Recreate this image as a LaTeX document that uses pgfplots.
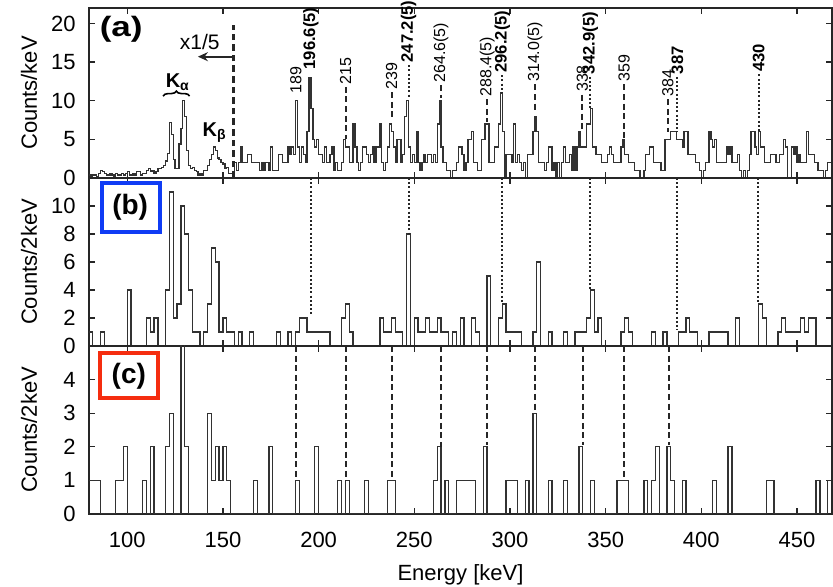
\documentclass[border=0pt]{standalone}
\usepackage{fontspec}
\setmainfont{Liberation Sans}
\usepackage{pgfplots}
\pgfplotsset{compat=1.18}
\usepackage{pgfplotstable}
\usetikzlibrary{decorations.pathreplacing,arrows.meta}

\definecolor{bbox}{RGB}{15,60,245}
\definecolor{rbox}{RGB}{245,45,15}
\definecolor{hist}{RGB}{50,50,50}

% panel (a): 1 keV bins (below 156 keV scaled by 1/5)
\pgfplotstableread[row sep=\\]{
E c\\
80 0.4\\81 0.2\\82 0.4\\83 0.4\\84 0.2\\85 0.6\\86 1.0\\87 0.8\\88 0.6\\89 0.4\\
90 0.4\\91 0.6\\92 0.4\\93 0.2\\94 0.6\\95 0.4\\96 0.4\\97 0.6\\98 0.4\\99 0.6\\
100 0.8\\101 0.4\\102 0.4\\103 0.6\\104 0.4\\105 0.8\\106 0.8\\107 0.4\\108 0.6\\109 0.6\\
110 1.0\\111 1.2\\112 0.8\\113 1.0\\114 0.6\\115 0.8\\116 1.2\\117 1.2\\118 1.4\\119 1.6\\
120 2.2\\121 3.2\\122 7.2\\123 5.6\\124 2.4\\125 1.2\\126 1.2\\127 4.4\\128 6.4\\129 10.0\\
130 8.0\\131 3.6\\132 1.6\\133 1.2\\134 1.4\\135 1.0\\136 0.8\\137 0.4\\138 0.6\\139 0.4\\
140 1.0\\141 1.0\\142 1.6\\143 2.4\\144 3.0\\145 4.0\\146 3.6\\147 2.6\\148 2.4\\149 2.0\\
150 1.8\\151 1.2\\152 1.4\\153 0.6\\154 0.6\\155 0.4\\156 2\\157 1\\158 2\\159 4\\
160 2\\161 2\\162 2\\163 3\\164 3\\165 2\\166 2\\167 2\\168 2\\169 1\\
170 2\\171 1\\172 2\\173 2\\174 1\\175 4\\176 1\\177 1\\178 1\\179 3\\
180 3\\181 2\\182 2\\183 2\\184 4\\185 3\\186 4\\187 3\\188 10\\189 4\\
190 2\\191 4\\192 3\\193 2\\194 6\\195 13\\196 9\\197 5\\198 4\\199 5\\
200 3\\201 3\\202 2\\203 4\\204 2\\205 2\\206 3\\207 4\\208 1\\209 2\\
210 1\\211 1\\212 2\\213 5\\214 4\\215 4\\216 2\\217 2\\218 7\\219 4\\
220 2\\221 1\\222 2\\223 4\\224 4\\225 3\\226 2\\227 3\\228 4\\229 2\\
230 4\\231 4\\232 7\\233 2\\234 1\\235 2\\236 4\\237 7\\238 6\\239 4\\
240 2\\241 5\\242 5\\243 2\\244 3\\245 8\\246 10\\247 4\\248 2\\249 3\\
250 2\\251 6\\252 2\\253 1\\254 2\\255 3\\256 2\\257 3\\258 3\\259 2\\
260 3\\261 2\\262 7\\263 10\\264 4\\265 2\\266 2\\267 1\\268 1\\269 0\\
270 1\\271 1\\272 2\\273 4\\274 4\\275 3\\276 1\\277 2\\278 5\\279 5\\
280 6\\281 2\\282 2\\283 1\\284 1\\285 5\\286 5\\287 7\\288 7\\289 2\\
290 2\\291 2\\292 4\\293 4\\294 7\\295 11\\296 6\\297 0\\298 3\\299 3\\
300 3\\301 2\\302 7\\303 2\\304 3\\305 2\\306 1\\307 2\\308 0\\309 3\\
310 3\\311 3\\312 6\\313 8\\314 6\\315 2\\316 2\\317 2\\318 1\\319 2\\
320 4\\321 4\\322 1\\323 2\\324 0\\325 2\\326 0\\327 2\\328 4\\329 2\\
330 2\\331 3\\332 1\\333 4\\334 1\\335 4\\336 6\\337 4\\338 4\\339 4\\
340 7\\341 7\\342 9\\343 4\\344 4\\345 3\\346 3\\347 3\\348 2\\349 2\\
350 2\\351 3\\352 4\\353 3\\354 2\\355 2\\356 2\\357 2\\358 4\\359 5\\
360 3\\361 3\\362 2\\363 2\\364 2\\365 1\\366 1\\367 1\\368 0\\369 0\\
370 1\\371 3\\372 3\\373 4\\374 4\\375 2\\376 2\\377 2\\378 2\\379 1\\
380 1\\381 5\\382 5\\383 5\\384 6\\385 6\\386 6\\387 5\\388 5\\389 5\\
390 4\\391 6\\392 6\\393 3\\394 3\\395 3\\396 3\\397 2\\398 2\\399 1\\
400 0\\401 1\\402 2\\403 2\\404 6\\405 5\\406 4\\407 5\\408 2\\409 2\\
410 2\\411 2\\412 2\\413 4\\414 3\\415 4\\416 2\\417 2\\418 2\\419 3\\
420 1\\421 0\\422 1\\423 0\\424 1\\425 3\\426 6\\427 6\\428 4\\429 3\\
430 6\\431 4\\432 4\\433 2\\434 2\\435 2\\436 3\\437 3\\438 3\\439 2\\
440 2\\441 3\\442 3\\443 5\\444 4\\445 0\\446 0\\447 4\\448 3\\449 4\\
450 2\\451 3\\452 2\\453 2\\454 2\\455 6\\456 3\\457 3\\458 3\\459 2\\
460 2\\461 1\\462 1\\463 1\\464 0\\465 1\\466 2\\467 2\\468 2\\
}\dataA

% panel (b): 2 keV bins
\pgfplotstableread[row sep=\\]{
E c\\
80 1\\82 0\\84 0\\86 1\\88 0\\90 0\\92 0\\94 0\\96 0\\98 0\\
100 4\\102 0\\104 0\\106 0\\108 0\\110 2\\112 1\\114 2\\116 0\\118 0\\
120 4\\122 11\\124 2\\126 3\\128 10\\130 8\\132 4\\134 1\\136 1\\138 0\\
140 1\\142 3\\144 7\\146 6\\148 1\\150 2\\152 1\\154 1\\156 0\\158 1\\
160 0\\162 0\\164 1\\166 0\\168 0\\170 0\\172 0\\174 0\\176 0\\178 1\\
180 0\\182 0\\184 1\\186 0\\188 1\\190 2\\192 2\\194 1\\196 1\\198 1\\
200 1\\202 1\\204 1\\206 0\\208 0\\210 0\\212 2\\214 3\\216 1\\218 0\\
220 0\\222 0\\224 0\\226 0\\228 0\\230 0\\232 2\\234 1\\236 1\\238 2\\
240 1\\242 1\\244 0\\246 8\\248 0\\250 2\\252 1\\254 1\\256 2\\258 1\\
260 1\\262 2\\264 1\\266 1\\268 0\\270 1\\272 0\\274 2\\276 0\\278 0\\
280 2\\282 1\\284 0\\286 0\\288 5\\290 0\\292 0\\294 2\\296 3\\298 1\\
300 1\\302 1\\304 1\\306 0\\308 0\\310 0\\312 1\\314 6\\316 0\\318 0\\
320 1\\322 0\\324 0\\326 0\\328 1\\330 0\\332 0\\334 1\\336 1\\338 1\\
340 2\\342 4\\344 1\\346 2\\348 0\\350 0\\352 0\\354 0\\356 0\\358 1\\
360 2\\362 1\\364 0\\366 0\\368 0\\370 0\\372 0\\374 1\\376 0\\378 0\\
380 1\\382 0\\384 0\\386 0\\388 1\\390 1\\392 2\\394 1\\396 1\\398 0\\
400 0\\402 0\\404 1\\406 1\\408 1\\410 1\\412 1\\414 0\\416 0\\418 2\\
420 0\\422 0\\424 0\\426 0\\428 0\\430 3\\432 2\\434 0\\436 0\\438 0\\
440 1\\442 2\\444 1\\446 1\\448 1\\450 1\\452 2\\454 1\\456 2\\458 2\\
460 0\\462 0\\464 0\\466 0\\468 0\\
}\dataB

% panel (c): 2 keV bins
\pgfplotstableread[row sep=\\]{
E c\\
80 1\\82 1\\84 1\\86 0\\88 0\\90 0\\92 0\\94 1\\96 1\\98 2\\
100 0\\102 0\\104 0\\106 0\\108 1\\110 0\\112 2\\114 0\\116 0\\118 0\\
120 2\\122 3\\124 0\\126 0\\128 7\\130 2\\132 0\\134 0\\136 0\\138 0\\
140 0\\142 3\\144 1\\146 2\\148 1\\150 2\\152 1\\154 0\\156 0\\158 0\\
160 0\\162 0\\164 0\\166 1\\168 0\\170 0\\172 0\\174 2\\176 0\\178 0\\
180 0\\182 0\\184 0\\186 0\\188 1\\190 0\\192 0\\194 0\\196 0\\198 2\\
200 0\\202 0\\204 0\\206 0\\208 0\\210 1\\212 0\\214 1\\216 0\\218 0\\
220 0\\222 0\\224 1\\226 0\\228 0\\230 0\\232 0\\234 0\\236 1\\238 1\\
240 0\\242 0\\244 0\\246 0\\248 0\\250 0\\252 0\\254 0\\256 0\\258 0\\
260 1\\262 2\\264 0\\266 1\\268 0\\270 0\\272 1\\274 1\\276 1\\278 1\\
280 1\\282 0\\284 0\\286 2\\288 0\\290 0\\292 0\\294 0\\296 0\\298 1\\
300 1\\302 1\\304 0\\306 0\\308 1\\310 0\\312 3\\314 0\\316 0\\318 0\\
320 1\\322 0\\324 0\\326 0\\328 1\\330 0\\332 0\\334 0\\336 2\\338 0\\
340 0\\342 1\\344 0\\346 0\\348 0\\350 0\\352 0\\354 0\\356 1\\358 1\\
360 1\\362 0\\364 0\\366 0\\368 0\\370 1\\372 0\\374 1\\376 2\\378 0\\
380 0\\382 2\\384 1\\386 0\\388 0\\390 1\\392 0\\394 0\\396 0\\398 0\\
400 0\\402 0\\404 0\\406 1\\408 0\\410 0\\412 0\\414 2\\416 0\\418 0\\
420 0\\422 0\\424 0\\426 0\\428 0\\430 0\\432 0\\434 1\\436 1\\438 0\\
440 0\\442 0\\444 0\\446 0\\448 0\\450 0\\452 0\\454 0\\456 0\\458 0\\
460 1\\462 0\\464 0\\466 1\\468 1\\
}\dataC

\newcommand\pl[3]{\node[rotate=90, anchor=west, inner sep=0pt, font=\fontsize{8}{9}\selectfont] at (axis cs:#1,#2) {#3};}
\newcommand\plb[3]{\node[rotate=90, anchor=west, inner sep=0pt, font=\fontsize{8.3}{9}\selectfont\bfseries] at (axis cs:#1,#2) {#3};}

\tikzset{
  dotl/.style={black!85, line width=1pt, dash pattern=on 1pt off 1.1pt},
  dashl/.style={black!85, line width=1pt, dash pattern=on 3pt off 1.8pt},
}
\pgfplotsset{
  panel/.style={
    scale only axis, width=371.5pt,
    xmin=80, xmax=468.3,
    xtick={100,150,...,450},
    axis line style={line width=0.8pt, black!85},
    every tick/.style={black!85, line width=0.6pt},
    major tick length=3pt,
    tick label style={font=\fontsize{11}{13}\selectfont},
    /pgf/number format/assume math mode=true,
    yticklabel style={inner sep=0pt, xshift=-6.5pt},
    every axis y label/.style={at={(axis description cs:-0.0808,0.5)}, rotate=90, anchor=center, font=\fontsize{11}{13}\selectfont},
  },
  hist/.style={const plot mark left, no marks, line width=0.65pt, color=hist},
}

\begin{document}
\begin{tikzpicture}
\useasboundingbox (-44.5pt,-36.25pt) rectangle (372pt,257pt);

% ---------- panel (a)
\begin{axis}[panel, at={(0,168pt)}, height=85pt, ymin=0, ymax=22, ytick={0,5,...,20},
  xticklabels={}, ylabel={Counts/keV}, clip=false]
\addplot[hist] table[x=E,y=c] {\dataA};
\draw[black!85, line width=1.5pt, dash pattern=on 3.3pt off 2pt] (axis cs:155.7,0) -- (axis cs:155.7,19.8);
\draw[-{Stealth[length=5pt,width=4.5pt]}, line width=1pt, black!85] (axis cs:155.2,15.7) -- (axis cs:136.9,15.7);
\node[font=\fontsize{10.5}{12}\selectfont] at (axis cs:137.9,17.6) {x1/5};
\node[font=\fontsize{14}{16}\selectfont\bfseries, xscale=1.25] at (axis cs:96.8,19.2) {(a)};
\node[font=\fontsize{10}{12}\selectfont\bfseries] at (axis cs:126.4,12.4) {K\textsubscript{α}};
\node[font=\fontsize{10}{12}\selectfont\bfseries] at (axis cs:145.7,5.9) {K\textsubscript{β}};
\draw[decorate, decoration={brace, amplitude=2.5pt}, line width=0.8pt] (axis cs:118.7,10.6) -- (axis cs:132.6,10.6);
% labels
\pl{188.1}{10.9}{189}
\plb{195.9}{14.0}{196.6(5)}
\pl{214.1}{12.05}{215}
\pl{238.1}{11.4}{239}
\plb{247.0}{14.9}{247.2(5)}
\pl{263.9}{12.3}{264.6(5)}
\pl{288.1}{10.5}{288.4(5)}
\plb{296.0}{13.6}{296.2(5)}
\pl{313.1}{12.4}{314.0(5)}
\pl{337.8}{11.1}{338}
\plb{342.0}{13.4}{342.9(5)}
\pl{359.6}{12.4}{359}
\pl{382.5}{10.5}{384}
\plb{387.5}{13.4}{387}
\plb{430.0}{13.7}{430}
% connectors
\draw[dashl] (axis cs:214.1,11.8) -- (axis cs:214.1,5.0);
\draw[dashl] (axis cs:238.1,11.1) -- (axis cs:238.1,7.5);
\draw[dashl] (axis cs:263.9,12.0) -- (axis cs:263.9,10.3);
\draw[dashl] (axis cs:288.1,10.2) -- (axis cs:288.1,7.2);
\draw[dashl] (axis cs:313.1,12.1) -- (axis cs:313.1,8.4);
\draw[dashl] (axis cs:337.8,10.8) -- (axis cs:337.8,6.2);
\draw[dashl] (axis cs:359.6,12.1) -- (axis cs:359.6,5.2);
\draw[dashl] (axis cs:382.5,10.2) -- (axis cs:382.5,6.0);
\draw[dotl] (axis cs:247.0,14.6) -- (axis cs:247.0,10.4);
\draw[dotl] (axis cs:296.0,13.3) -- (axis cs:296.0,11.1);
\draw[dotl] (axis cs:342.0,13.1) -- (axis cs:342.0,9.1);
\draw[dotl] (axis cs:387.5,13.1) -- (axis cs:387.5,6.0);
\draw[dotl] (axis cs:430.0,13.4) -- (axis cs:430.0,6.0);
\end{axis}

% ---------- panel (b)
\begin{axis}[panel, at={(0,84pt)}, height=84pt, ymin=0, ymax=12, ytick={0,2,...,10},
  xticklabels={}, ylabel={Counts/2keV}]
\addplot[hist] table[x=E,y=c] {\dataB};
\draw[dotl] (axis cs:195.9,12) -- (axis cs:195.9,2.1);
\draw[dotl] (axis cs:247.2,12) -- (axis cs:247.2,8);
\draw[dotl] (axis cs:296.0,12) -- (axis cs:296.0,3.07);
\draw[dotl] (axis cs:341.8,12) -- (axis cs:341.8,4.1);
\draw[dotl] (axis cs:387.1,12) -- (axis cs:387.1,1.17);
\draw[dotl] (axis cs:429.8,12) -- (axis cs:429.8,3.07);
\draw[bbox, line width=2pt, fill=white] (axis cs:87,8.16) rectangle (axis cs:116.9,11.61);
\node[font=\fontsize{14}{16}\selectfont\bfseries] at (axis cs:101.5,9.9) {(b)};
\end{axis}

% ---------- panel (c)
\begin{axis}[panel, at={(0,0)}, height=84pt, ymin=0, ymax=5, ytick={0,1,...,4},
  xlabel={Energy [keV]}, ylabel={Counts/2keV},
  xticklabel style={anchor=center, yshift=-12.75pt},
  every axis x label/.style={at={(axis description cs:0.5,-0.36)}, anchor=center, font=\fontsize{11}{13}\selectfont}]
\addplot[hist] table[x=E,y=c] {\dataC};
\draw[dashl] (axis cs:188.1,5) -- (axis cs:188.1,1);
\draw[dashl] (axis cs:214.1,5) -- (axis cs:214.1,1);
\draw[dashl] (axis cs:238.1,5) -- (axis cs:238.1,1);
\draw[dashl] (axis cs:263.9,5) -- (axis cs:263.9,2);
\draw[dashl] (axis cs:288.1,5) -- (axis cs:288.1,2.06);
\draw[dashl] (axis cs:313.1,5) -- (axis cs:313.1,3);
\draw[dashl] (axis cs:338.0,5) -- (axis cs:338.0,2.06);
\draw[dashl] (axis cs:359.7,5) -- (axis cs:359.7,1);
\draw[dashl] (axis cs:383.1,5) -- (axis cs:383.1,2.06);
\draw[rbox, line width=2pt, fill=white] (axis cs:85.8,3.46) rectangle (axis cs:115.9,4.80);
\node[font=\fontsize{14}{16}\selectfont\bfseries] at (axis cs:100.8,4.09) {(c)};
\end{axis}
\end{tikzpicture}
\end{document}
